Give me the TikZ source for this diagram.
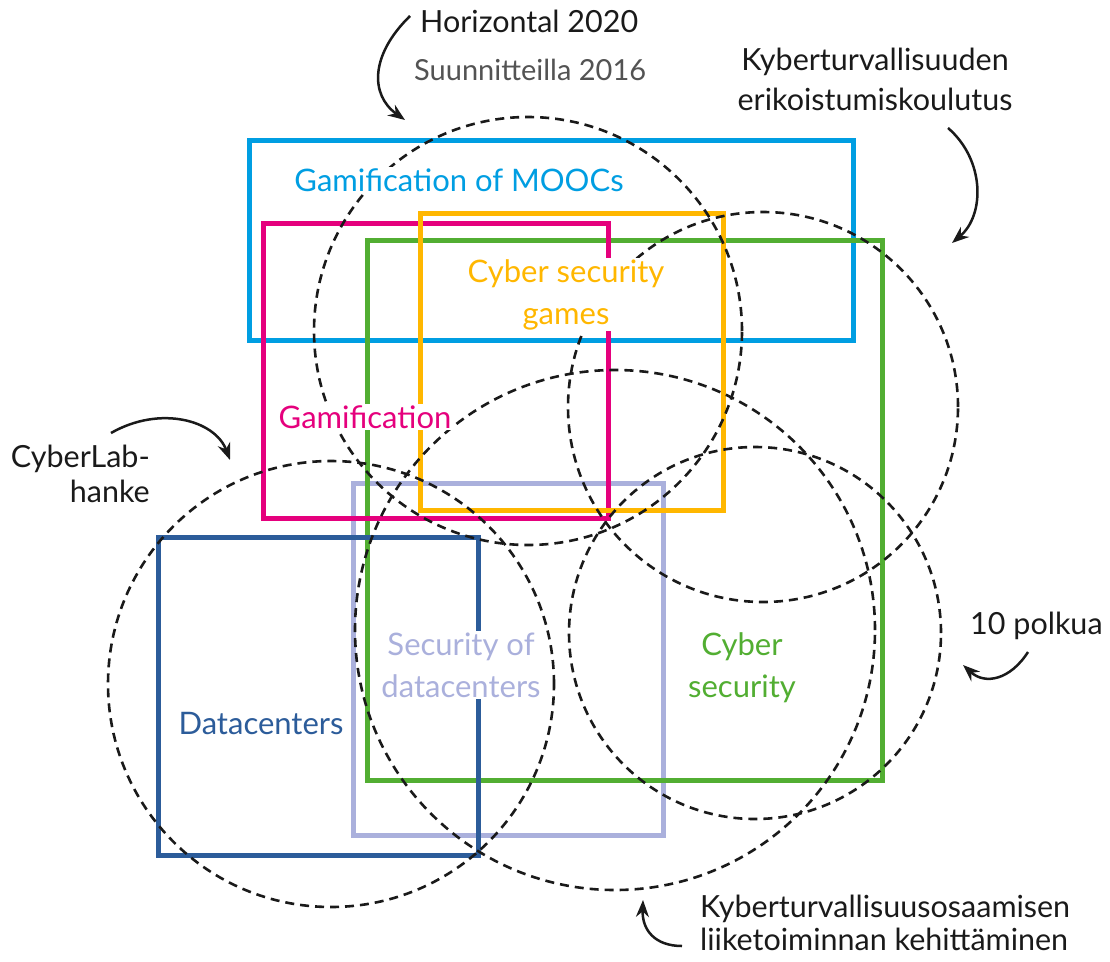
\documentclass[tikz,border=0pt]{standalone}
\usepackage{fontspec}
\setmainfont{Lato}
\usetikzlibrary{arrows.meta,positioning}
\definecolor{moocblue}{HTML}{009EE2}
\definecolor{gamepink}{HTML}{E5007D}
\definecolor{gameyellow}{HTML}{FFB700}
\definecolor{cybergreen}{HTML}{52AE32}
\definecolor{dclilac}{HTML}{AAB0DC}
\definecolor{dcblue}{HTML}{2C5C9A}
\definecolor{ink}{HTML}{1A1A1A}
\tikzset{
	frame/.style={line width=5pt},
	ring/.style={line width=2.6pt,dash pattern=on 9pt off 6pt,ink},
	tag/.style={fill=white,align=center,inner sep=1.5pt,font=\fontsize{31}{42}\selectfont},
	note/.style={text=ink,inner sep=0pt,font=\fontsize{30.5}{40}\selectfont},
	bendarrow/.style={-{Stealth[length=17pt,width=13pt]},line width=2.5pt,ink}
}

\begin{document}
\begin{tikzpicture}[x=1pt,y=-1pt]
	\useasboundingbox (0,0) rectangle (1110,961);
	% project boxes
	\draw[frame,moocblue] (249,140) rectangle (853,340);
	\draw[frame,dclilac] (353,483) rectangle (663,835);
	\draw[frame,cybergreen] (367,240) rectangle (882,780);
	\draw[frame,gamepink] (263,223) rectangle (608,518);
	\draw[frame,gameyellow] (420,213) rectangle (723,510);
	\draw[frame,dcblue] (158,537) rectangle (478,855);
	% funding circles
	\draw[ring] (528,331) circle[radius=214pt];
	\draw[ring] (763,407) circle[radius=195pt];
	\draw[ring] (615,630) circle[radius=260pt];
	\draw[ring] (755,633) circle[radius=186pt];
	\draw[ring] (331,684) circle[radius=223pt];
	% box labels (base = last line)
	\node[tag,text=moocblue,anchor=base] (moocs) at (459,191) {Gamification of MOOCs};
	\node[tag,text=gameyellow,anchor=base] (games) at (566,324) {Cyber security\\games};
	\node[tag,text=gamepink,anchor=base] (gamif) at (365,428) {Gamification};
	\node[tag,text=dclilac,anchor=base] (secdc) at (461,697) {Security of\\datacenters};
	\node[tag,text=cybergreen,anchor=base] (cysec) at (742,697) {Cyber\\security};
	\node[tag,text=dcblue,anchor=base] (dc) at (261,734) {Datacenters};
	% circle notes
	\node[note,anchor=base west] (h2020) at (420,32) {Horizontal 2020};
	\node[note,anchor=base west,text=ink!75,font=\fontsize{29}{40}\selectfont] (plan) at (414,80) {Suunnitteilla 2016};
	\node[note,align=center,anchor=base] (kyber) at (875,110) {Kyberturvallisuuden\\erikoistumiskoulutus};
	\node[note,align=right,anchor=base east,font=\fontsize{30.5}{35}\selectfont] (lab) at (150,502) {CyberLab-\\hanke};
	\node[note,anchor=base west] (paths) at (970,634) {10 polkua};
	\node[note,align=left,anchor=base west,font=\fontsize{30.5}{33}\selectfont] (biz) at (700,950) {Kyberturvallisuusosaamisen\\liiketoiminnan kehittäminen};
	% arrows
	\coordinate (h2020s) at (410,16);
	\coordinate (h2020e) at (405,120);
	\coordinate (kybers) at (948,128);
	\coordinate (kybere) at (952,243);
	\coordinate (labs) at (111,433);
	\coordinate (labe) at (230,460);
	\coordinate (pathss) at (1028,652);
	\coordinate (pathse) at (963,665);
	\coordinate (bizs) at (682,946);
	\coordinate (bize) at (643,900);
	\draw[bendarrow] (h2020s) .. controls (370,55) and (370,95) .. (h2020e);
	\draw[bendarrow] (kybers) .. controls (985,160) and (985,215) .. (kybere);
	\draw[bendarrow] (labs) .. controls (160,405) and (215,420) .. (labe);
	\draw[bendarrow] (pathss) .. controls (1010,680) and (985,685) .. (pathse);
	\draw[bendarrow] (bizs) .. controls (655,946) and (642,930) .. (bize);
\end{tikzpicture}
\end{document}
